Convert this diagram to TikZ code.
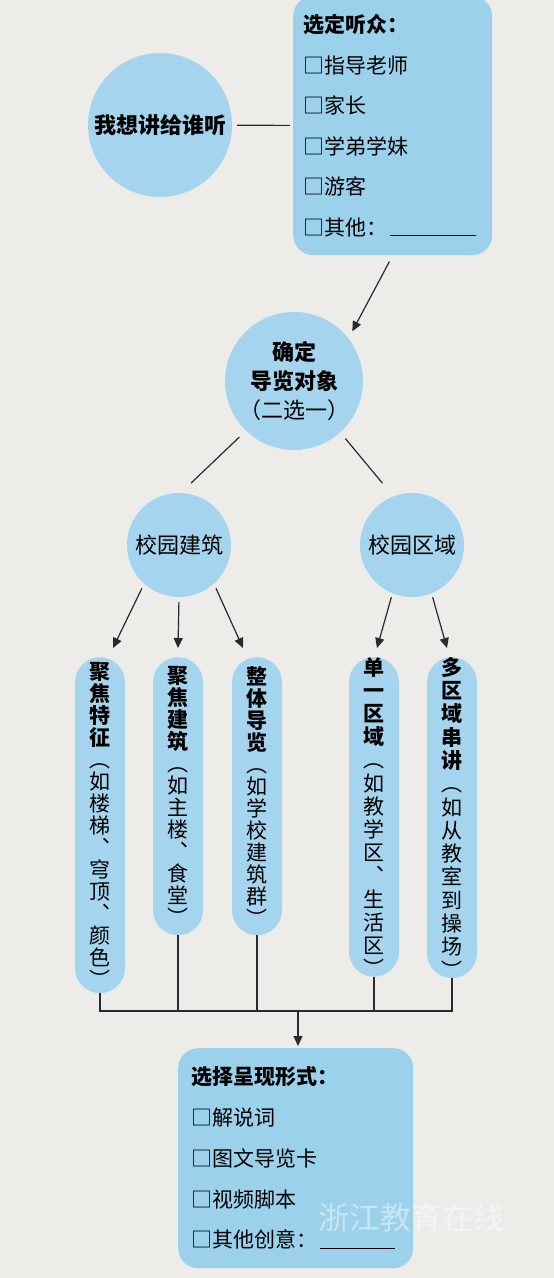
\documentclass[tikz,border=0pt]{standalone}
\usepackage{fontspec}
\setmainfont{Noto Sans CJK SC}
\usetikzlibrary{arrows.meta,positioning,calc}
\definecolor{PaperGrey}{HTML}{EDECE9}
\definecolor{SkyBlue}{HTML}{A5D5EE}
\definecolor{BoxBlue}{HTML}{9CD1EC}
\definecolor{InkGrey}{HTML}{2A2A2A}

\begin{document}
\begin{tikzpicture}[
  x=1pt, y=-1pt,
  bubble/.style={circle, fill=SkyBlue, inner sep=0pt, align=center, font=\fontsize{22}{29}\selectfont\bfseries},
  listbox/.style={fill=BoxBlue, rounded corners=20pt, anchor=north west, inner xsep=10pt, inner ysep=0pt, align=left, font=\fontsize{21}{40.6}\selectfont},
  pill/.style={fill=SkyBlue, rounded corners=25pt, minimum width=50pt, inner sep=0pt, text width=24pt, align=center, anchor=north, font=\fontsize{21}{22}\selectfont},
  link/.style={draw=InkGrey, line width=1.2pt},
  arrow/.style={-{Triangle[length=10pt,width=9pt]}, draw=InkGrey, line width=1.2pt}
]
  \fill[PaperGrey] (0,0) rectangle (554,1278);
  \useasboundingbox (0,0) rectangle (554,1278);

  % audience
  \node[bubble, minimum size=144pt] (q) at (160,125) {我想讲给谁听};
  \node[listbox, minimum width=199pt, minimum height=259pt, text width=179pt] (aud) at (293,-4)
    {{\bfseries 选定听众：}\\□指导老师\\□家长\\□学弟学妹\\□游客\\□其他：\hspace{3pt}\raisebox{-1pt}{\rule{86pt}{1.2pt}}};

  % object
  \node[bubble, minimum size=138pt] (obj) at (294,381) {确定\\导览对象\\{\mdseries （二选一）}};
  \node[bubble, minimum size=104pt, font=\fontsize{22}{26}\selectfont] (bld) at (179,545) {校园建筑};
  \node[bubble, minimum size=104pt, font=\fontsize{22}{26}\selectfont] (reg) at (412,545) {校园区域};

  % choices
  \node[pill, minimum height=336pt] (p1) at (100,657)
    {{\bfseries 聚\\焦\\特\\征}\\︵\\如\\楼\\梯\\︑\\穹\\顶\\︑\\颜\\色\\︶};
  \node[pill, minimum height=278pt] (p2) at (178,657)
    {{\bfseries 聚\\焦\\建\\筑}\\︵\\如\\主\\楼\\︑\\食\\堂\\︶};
  \node[pill, minimum height=278pt] (p3) at (257,657)
    {{\bfseries 整\\体\\导\\览}\\︵\\如\\学\\校\\建\\筑\\群\\︶};
  \node[pill, minimum height=311pt, font=\fontsize{21}{23.2}\selectfont] (p4) at (374,657)
    {{\bfseries 单\\一\\区\\域}\\︵\\如\\教\\学\\区\\︑\\生\\活\\区\\︶};
  \node[pill, minimum height=318pt, font=\fontsize{21}{23.3}\selectfont] (p5) at (452,657)
    {{\bfseries 多\\区\\域\\串\\讲}\\︵\\如\\从\\教\\室\\到\\操\\场\\︶};

  % format
  \node[listbox, minimum width=235pt, minimum height=220pt, text width=209pt, font=\fontsize{21}{40.75}\selectfont] (fmt) at (178,1048)
    {{\bfseries 选择呈现形式：}\\□解说词\\□图文导览卡\\□视频脚本\\□其他创意：\hspace{3pt}\raisebox{-1pt}{\rule{75pt}{1.2pt}}};
  \node[text=white, opacity=0.45, anchor=west, inner sep=0pt, font=\fontsize{31}{31}\selectfont] (mark) at (318,1218) {浙江教育在线};

  \coordinate (bus) at (298,1011);

  \draw[link, shorten <=5pt, shorten >=3pt] (q) -- (aud);
  \draw[arrow, shorten <=7pt, shorten >=8pt] (aud.south) -- (obj.38);
  \draw[link, shorten <=9pt, shorten >=14pt] (obj.226) -- (bld.88);
  \draw[link, shorten <=8pt, shorten >=17pt] (obj.312) -- (reg.111);

  \draw[arrow, shorten <=5pt] (bld.228) -- ([xshift=13pt,yshift=9pt]p1.north);
  \draw[arrow, shorten <=5pt] (bld.south) -- ([yshift=9pt]p2.north);
  \draw[arrow, shorten <=5pt] (bld.312) -- ([xshift=-14pt,yshift=9pt]p3.north);
  \draw[arrow, shorten <=4pt] (reg.248) -- ([xshift=3pt,yshift=9pt]p4.north);
  \draw[arrow, shorten <=4pt] (reg.292) -- ([xshift=-5pt,yshift=9pt]p5.north);

  \draw[link] (p1.south) -- (p1.south |- bus) -- (p5.south |- bus) -- (p5.south);
  \draw[link] (p2.south) -- (p2.south |- bus);
  \draw[link] (p3.south) -- (p3.south |- bus);
  \draw[link] (p4.south) -- (p4.south |- bus);
  \draw[arrow, shorten >=2pt] (bus) -- (fmt.north -| bus);
\end{tikzpicture}
\end{document}
